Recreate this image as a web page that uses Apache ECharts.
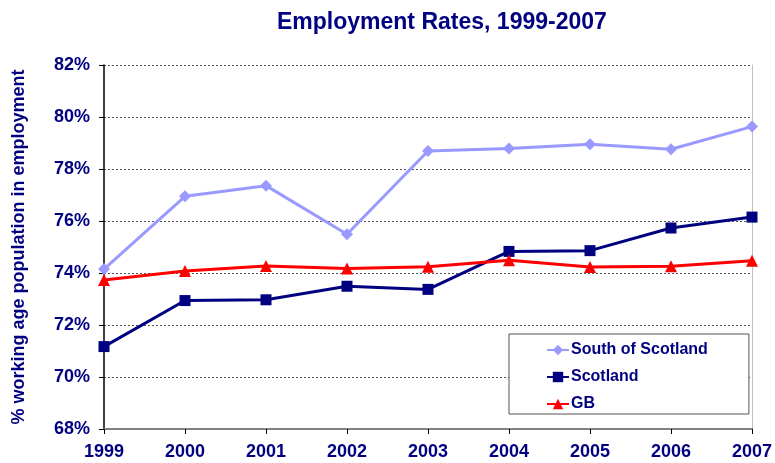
<!DOCTYPE html>
<html>
<head>
<meta charset="utf-8">
<script src="https://cdn.jsdelivr.net/npm/echarts@6/dist/echarts.min.js"></script>
<style>
  html, body { margin: 0; padding: 0; background: #fff; }
  #chart { width: 775px; height: 463px; }
</style>
</head>
<body>
<div id="chart"></div>
<script>
// Employment rates (% of working-age population in employment)
const years = ['1999', '2000', '2001', '2002', '2003', '2004', '2005', '2006', '2007'];
const southOfScotland = [74.15, 76.95, 77.36, 75.49, 78.69, 78.79, 78.95, 78.76, 79.63];
const scotland = [71.17, 72.94, 72.97, 73.49, 73.37, 74.83, 74.86, 75.73, 76.15];
const gb = [73.73, 74.08, 74.27, 74.17, 74.24, 74.49, 74.23, 74.26, 74.47];

const navy = '#000080';
const font = '"Liberation Sans", Arial, sans-serif';

const chart = echarts.init(document.getElementById('chart'), null, { renderer: 'canvas' });

chart.setOption({
  animation: false,
  backgroundColor: '#ffffff',
  textStyle: { fontFamily: font },
  title: {
    text: 'Employment Rates, 1999-2007',
    left: 272,
    top: 6,
    textStyle: { color: navy, fontSize: 23, fontWeight: 'bold', fontFamily: font }
  },
  grid: { left: 104, right: 21, top: 65, bottom: 34, containLabel: false },
  legend: {
    orient: 'vertical',
    left: 509,
    top: 334,
    padding: [8, 41, 2, 37],
    itemGap: 11,
    itemWidth: 22,
    itemHeight: 13,
    backgroundColor: '#ffffff',
    borderColor: '#555555',
    borderWidth: 1,
    textStyle: { color: navy, fontSize: 16, fontWeight: 'bold', fontFamily: font, padding: [0, 0, 0, -3] },
    data: ['South of Scotland', 'Scotland', 'GB']
  },
  xAxis: {
    type: 'category',
    data: years,
    boundaryGap: false,
    axisLine: { lineStyle: { color: '#808080', width: 2 } },
    axisTick: { show: true, length: 5, lineStyle: { color: '#000000' } },
    axisLabel: { color: navy, fontSize: 18, fontWeight: 'bold', fontFamily: font, margin: 14 },
    splitLine: { show: false }
  },
  yAxis: [
    {
      type: 'value',
      min: 68,
      max: 82,
      interval: 2,
      name: '% working age population in employment',
      nameLocation: 'middle',
      nameGap: 76,
      nameTextStyle: { color: navy, fontSize: 18, fontWeight: 'bold', fontFamily: font },
      axisLine: { show: true, lineStyle: { color: '#000000', width: 1.5 } },
      axisTick: { show: true, length: 5, lineStyle: { color: '#000000' } },
      axisLabel: {
        color: navy, fontSize: 18, fontWeight: 'bold', fontFamily: font, margin: 14,
        formatter: v => v + '%'
      },
      splitLine: { show: true, lineStyle: { color: '#555555', type: [2, 2], width: 1 } }
    },
    {
      // right-hand frame edge of the plot area
      type: 'value',
      position: 'right',
      min: 68,
      max: 82,
      axisLine: { show: true, lineStyle: { color: '#c0c0c0', width: 1 } },
      axisTick: { show: false },
      axisLabel: { show: false },
      splitLine: { show: false }
    }
  ],
  series: [
    {
      name: 'South of Scotland',
      type: 'line',
      data: southOfScotland,
      symbol: 'diamond',
      symbolSize: 12,
      color: '#9999ff',
      lineStyle: { width: 3, color: '#9999ff' },
      itemStyle: { color: '#9999ff' },
      z: 3
    },
    {
      name: 'Scotland',
      type: 'line',
      data: scotland,
      symbol: 'rect',
      symbolSize: 11,
      color: navy,
      lineStyle: { width: 3, color: navy },
      itemStyle: { color: navy },
      z: 4
    },
    {
      name: 'GB',
      type: 'line',
      data: gb,
      symbol: 'triangle',
      symbolSize: 12,
      color: '#ff0000',
      lineStyle: { width: 3, color: '#ff0000' },
      itemStyle: { color: '#ff0000' },
      z: 5
    }
  ]
});
</script>
</body>
</html>
